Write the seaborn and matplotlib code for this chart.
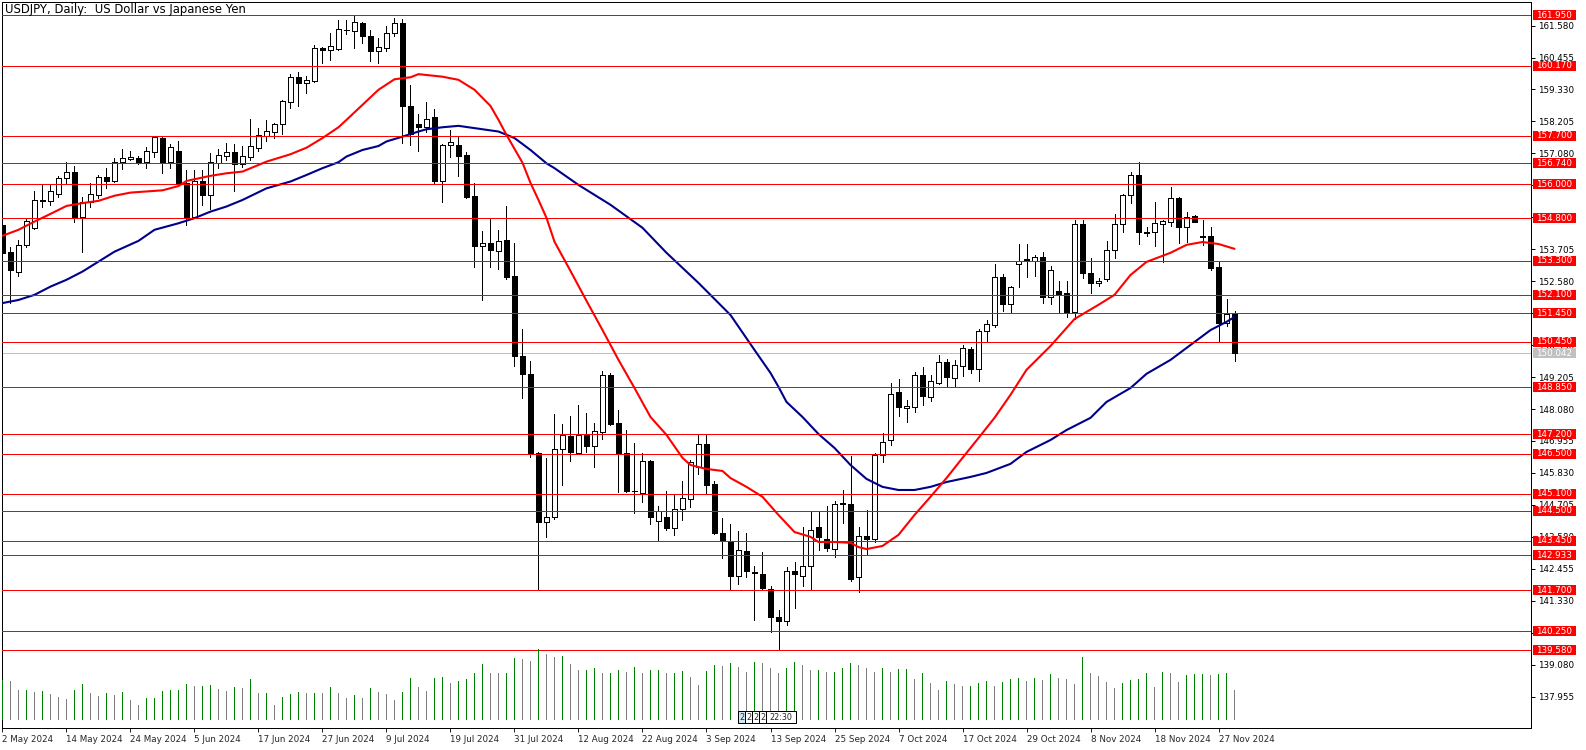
import numpy as np
import pandas as pd
import matplotlib
matplotlib.use("Agg")
import matplotlib.pyplot as plt
import seaborn as sns
from matplotlib.patches import Rectangle
from matplotlib.transforms import ScaledTranslation

sns.set_style("white")
plt.rcParams['font.family'] = ['DejaVu Sans']

# ---------------- data ----------------
opens = [154.56,153.60,152.92,153.87,154.47,155.42,155.42,155.64,156.21,156.42,
         154.85,155.36,155.62,156.24,156.12,156.79,156.88,156.91,156.79,157.14,
         157.62,156.79,157.17,156.03,154.85,156.11,155.60,156.74,157.00,157.12,
         156.70,156.97,157.26,157.71,157.85,158.11,158.90,159.76,159.55,159.63,
         160.78,160.72,160.75,161.42,161.40,161.66,161.22,160.70,160.78,161.31,
         161.66,158.75,158.11,158.02,158.36,156.12,157.36,157.38,157.03,155.58,
         153.83,153.92,153.66,154.03,152.77,149.95,149.32,146.54,144.12,144.27,
         146.66,147.12,146.54,147.18,146.79,147.28,149.28,147.60,146.52,145.21,
         145.12,146.26,144.15,144.29,143.88,144.55,144.90,146.03,146.85,145.44,
         143.71,143.41,142.21,143.08,142.34,142.28,141.73,140.75,140.62,142.38,
         142.21,142.57,143.94,143.50,143.14,144.77,144.74,142.18,143.61,143.50,
         146.46,146.99,148.67,148.11,148.15,149.28,148.50,148.99,149.73,149.16,
         149.61,150.20,149.48,150.83,151.04,152.74,151.77,153.18,153.37,153.30,
         153.42,152.02,152.24,152.16,151.51,154.60,152.86,152.51,152.65,153.68,
         154.59,155.62,156.32,154.32,154.31,154.60,154.68,155.50,154.50,154.88,
         154.16,154.18,153.09,151.11,151.44]
highs = [154.67,153.78,154.03,154.76,155.74,155.97,155.97,156.30,156.76,156.62,
         155.56,156.03,156.33,156.56,156.91,157.23,157.17,156.99,157.32,157.71,
         157.71,157.41,157.52,156.50,156.50,156.50,157.11,157.24,157.44,157.40,
         157.34,158.29,157.97,158.26,158.16,158.96,159.88,159.94,159.81,160.90,
         160.84,161.31,161.78,161.78,161.96,161.70,161.43,161.14,161.57,161.84,
         161.81,159.49,158.47,158.88,158.65,157.40,157.91,157.65,157.12,156.03,
         154.35,154.77,154.39,155.23,153.92,150.90,149.78,146.58,146.35,147.91,
         147.56,147.84,148.22,147.95,147.60,149.42,149.34,148.05,147.34,146.90,
         146.52,146.30,144.67,145.20,145.06,145.55,146.30,147.19,147.19,145.55,
         144.26,144.03,143.79,143.73,142.57,143.04,141.85,141.00,142.51,142.71,
         143.94,144.47,144.47,144.67,144.85,145.23,146.44,143.94,144.53,146.52,
         147.23,148.99,149.14,148.40,149.40,149.57,149.28,149.98,149.85,149.81,
         150.34,150.28,150.89,151.22,153.19,152.84,152.41,153.89,153.89,153.51,
         153.62,153.12,152.57,152.57,154.74,154.74,153.39,152.69,154.00,154.95,
         155.65,156.42,156.76,154.50,155.36,154.74,155.89,155.54,155.03,154.90,
         154.74,154.50,153.24,151.96,151.52]
lows = [153.47,151.81,152.78,153.80,154.42,155.21,155.27,155.56,156.03,154.68,
        153.60,155.21,155.50,155.86,156.09,156.53,156.83,156.70,156.58,156.95,
        156.38,156.58,156.00,154.56,154.80,155.27,155.11,156.56,156.83,155.74,
        156.59,156.83,157.18,157.53,157.62,157.77,158.69,158.76,159.20,159.61,
        160.28,160.37,160.72,161.29,160.78,160.96,160.35,160.28,160.70,161.23,
        157.44,157.38,157.18,157.85,156.05,155.38,156.97,156.30,155.50,153.09,
        151.92,153.09,153.01,152.65,149.60,148.48,146.40,141.71,143.59,144.20,
        145.41,146.26,146.50,146.58,146.05,147.03,147.52,145.17,145.15,144.43,
        144.82,144.02,143.47,143.82,143.65,144.17,144.62,145.78,145.09,143.68,
        142.83,141.75,141.92,142.18,140.65,141.71,140.22,139.58,140.48,141.08,
        141.86,141.71,143.12,143.09,142.88,144.08,142.04,141.63,142.94,143.41,
        146.23,146.82,147.85,147.63,147.99,148.22,148.38,148.95,148.87,148.87,
        149.26,149.36,149.08,150.48,150.97,151.54,151.45,152.39,152.74,152.77,
        151.83,151.78,151.51,151.33,151.24,152.69,152.16,152.42,152.60,153.41,
        154.33,155.33,153.88,154.18,153.83,153.27,154.53,153.92,153.97,154.65,
        153.86,152.98,150.48,151.01,149.77]
closes = [153.58,152.98,153.85,154.70,155.44,155.44,155.76,156.21,156.42,154.85,
          155.36,155.65,156.24,156.12,156.76,156.91,156.97,156.79,157.17,157.65,
          156.79,157.30,156.03,154.85,156.11,155.60,156.76,157.03,157.12,156.70,
          157.00,157.34,157.73,157.87,158.12,158.93,159.76,159.57,159.67,160.78,
          160.73,160.87,161.45,161.44,161.70,161.23,160.70,160.82,161.31,161.66,
          158.76,157.76,158.02,158.28,156.12,157.36,157.48,157.00,155.56,153.83,
          153.92,153.68,154.01,152.74,149.93,149.32,146.50,144.12,144.27,146.66,
          147.16,146.58,147.16,146.79,147.30,149.28,147.55,146.50,145.20,145.19,
          146.26,144.29,144.50,143.90,144.55,144.94,146.23,146.85,145.41,143.71,
          143.44,142.21,143.12,142.39,142.32,141.79,140.77,140.62,142.38,142.26,
          142.57,143.82,143.59,143.20,144.74,144.74,142.10,143.61,143.50,146.46,
          146.91,148.61,148.16,148.19,149.28,148.55,149.07,149.73,149.20,149.63,
          150.22,149.48,150.83,151.07,152.74,151.78,152.36,153.30,153.30,153.42,
          152.02,152.98,152.13,151.51,154.60,152.86,152.51,152.60,153.68,154.59,
          155.62,156.32,154.31,154.29,154.62,154.70,155.50,154.50,154.83,154.68,
          154.14,153.04,151.10,151.44,150.05]
volumes = [120, 117,90,90,85,87,78,70,63,90,107,80,73,80,75,85,60,45,65,67,
           87,90,90,108,103,103,105,93,87,100,97,123,80,80,45,70,77,85,80,82,
           80,100,80,65,75,65,97,85,77,60,85,127,100,87,125,130,110,118,123,142,
           167,142,140,140,187,182,178,213,197,190,193,167,150,150,157,140,140,150,145,160,
           142,150,150,140,142,148,130,105,148,165,162,170,160,145,175,170,157,142,157,173,
           165,150,150,145,145,155,172,165,155,145,155,145,152,152,122,140,110,90,117,107,
           102,102,112,117,102,115,122,127,117,127,120,137,125,122,107,190,142,132,115,95,
           112,120,122,142,100,145,142,115,135,137,137,135,137,142,91]
ma_fast_bar = [0,2,4,6,8,10,12,14,16,18,20,22,23,26,28,30,33,36,38,40,42,43,45,47,49,
               51,52,53,55,57,59,61,62,63,65,66,67,68,69,71,73,75,77,79,81,83,85,86,88,90,
               91,93,95,97,99,101,102,104,106,107,108,110,112,114,116,118,120,122,124,126,
               128,131,134,137,139,141,143,146,148,150,152,154]
ma_fast_val = [154.18,154.39,154.68,154.95,155.23,155.33,155.41,155.59,155.70,155.74,
               155.78,155.93,156.11,156.29,156.38,156.44,156.79,157.05,157.28,157.62,
               158.00,158.26,158.79,159.32,159.69,159.76,159.87,159.84,159.78,159.67,
               159.32,158.75,158.26,157.73,156.75,156.04,155.44,154.81,153.97,152.94,
               151.89,150.86,149.81,148.82,147.80,147.17,146.36,146.11,145.97,145.90,
               145.65,145.34,144.99,144.35,143.75,143.58,143.40,143.40,143.37,143.22,
               143.15,143.26,143.65,144.35,144.99,145.65,146.36,147.06,147.77,148.58,
               149.46,150.30,151.25,151.75,152.10,152.80,153.26,153.58,153.86,153.96,
               153.89,153.72]
ma_slow_bar = [0,2,4,6,8,10,12,14,17,19,22,24,26,28,30,33,36,38,40,42,43,45,47,48,50,
               52,53,55,57,59,62,64,66,68,69,72,76,80,83,87,91,94,96,97,98,100,102,104,106,
               108,110,112,114,116,118,121,123,126,128,131,133,136,138,141,143,146,149,151,
               153,154]
ma_slow_val = [151.81,151.92,152.10,152.39,152.63,152.92,153.27,153.62,154.00,154.39,
               154.62,154.80,155.03,155.21,155.44,155.85,156.09,156.32,156.56,156.77,
               156.97,157.20,157.34,157.50,157.67,157.85,157.93,158.00,158.05,157.97,
               157.85,157.62,157.20,156.73,156.56,155.97,155.27,154.46,153.58,152.52,
               151.39,150.16,149.35,148.86,148.33,147.80,147.20,146.71,146.11,145.62,
               145.34,145.23,145.23,145.34,145.51,145.69,145.83,146.15,146.57,146.99,
               147.34,147.77,148.33,148.82,149.32,149.81,150.44,150.86,151.15,151.32]
levels = [161.950,160.170,157.700,156.740,156.000,154.800,153.300,152.100,151.450,
          150.450,148.850,147.200,146.500,145.100,144.500,143.450,142.933,141.700,
          140.250,139.580]
bid_price = 150.042
price_ticks = [137.955,139.080,140.205,141.330,142.455,143.580,144.705,145.830,
               146.955,148.080,149.205,150.330,151.455,152.580,153.705,154.830,
               155.955,157.080,158.205,159.330,160.455,161.580]
date_labels = ["2 May 2024","14 May 2024","24 May 2024","5 Jun 2024","17 Jun 2024",
               "27 Jun 2024","9 Jul 2024","19 Jul 2024","31 Jul 2024","12 Aug 2024",
               "22 Aug 2024","3 Sep 2024","13 Sep 2024","25 Sep 2024","7 Oct 2024",
               "17 Oct 2024","29 Oct 2024","8 Nov 2024","18 Nov 2024","27 Nov 2024"]
date_bars = [0,8,16,24,32,40,48,56,64,72,80,88,96,104,112,120,128,136,144,152]
cursor_labels = ["2", "2", "2", "2", "22:30"]
title = "USDJPY, Daily:  US Dollar vs Japanese Yen"

df = pd.DataFrame({"bar": np.arange(len(opens)), "open": opens, "high": highs,
                   "low": lows, "close": closes, "volume": volumes})

# ---------------- figure ----------------
W, H = 1586, 750
fig = plt.figure(figsize=(W/100, H/100), dpi=100)
fig.patch.set_facecolor("white")
L, R, T, B = 2, 1531, 2, 728.3
rect = [L/W, 1 - B/H, (R-L)/W, (B-T)/H]
ax = fig.add_axes(rect)
ax.set_facecolor("white")
for s in ax.spines.values():
    s.set_color("black"); s.set_linewidth(0.72)

FS = 6.3
PX = 0.72  # one pixel in points
ax.set_xlim(-0.06, 191.06)
ax.set_ylim(136.84, 162.41)

# horizontal levels
for lv in levels:
    ax.axhline(lv, color="#ff0000", lw=PX, zorder=5, antialiased=False)
ax.axhline(bid_price, color="#c0c0c0", lw=PX, zorder=1.5, antialiased=False)

# candles
up = df["close"] >= df["open"]
ax.vlines(df["bar"], df["low"], df["high"], color="black", lw=PX, zorder=2,
          antialiased=False)
body_lo = np.minimum(df["open"], df["close"])
body_h = np.maximum((df["close"] - df["open"]).abs(), 0.012)
ax.bar(df["bar"], body_h, bottom=body_lo, width=0.56,
       color=np.where(up, "white", "black"), edgecolor="black", linewidth=PX,
       zorder=3, antialiased=False)

# moving averages
sns.lineplot(x=ma_slow_bar, y=ma_slow_val, ax=ax, color="#00008b", lw=1.5, zorder=4)
sns.lineplot(x=ma_fast_bar, y=ma_fast_val, ax=ax, color="#ff0000", lw=1.5, zorder=4)

# right axis ticks
ax.yaxis.tick_right()
ax.set_yticks(price_ticks)
ax.set_yticklabels([f"{t:.3f}" for t in price_ticks])
ax.tick_params(axis="y", which="both", right=True, left=False, length=3, width=PX,
               pad=2, labelsize=FS, colors="black", direction="out")
ax.set_xticks(date_bars)
ax.set_xticklabels(date_labels, ha="left")
ax.tick_params(axis="x", bottom=True, length=3, width=PX, pad=1.5, labelsize=FS,
               direction="out")
ax.set_xlabel(""); ax.set_ylabel("")

# price label boxes
ytr = ax.get_yaxis_transform()
box_w = 43 / (R - L)
box_h = 10 / 28.4
off = ScaledTranslation(5/100, 0, fig.dpi_scale_trans)
def price_box(y, text, fc):
    ax.add_patch(Rectangle((1.0015, y - box_h/2), box_w, box_h, transform=ytr,
                           facecolor=fc, edgecolor=fc, lw=0, clip_on=False, zorder=6))
    ax.text(1.0, y, text, transform=ytr + off, ha="left", va="center", color="white",
            fontsize=FS, zorder=7, clip_on=False)
for lv in levels:
    price_box(lv, f"{lv:.3f}", "#ff0000")
price_box(bid_price, f"{bid_price:.3f}", "#c0c0c0")

# volumes
vax = fig.add_axes(rect, sharex=ax, frameon=False)
vax.patch.set_alpha(0)
vcol = ["#008000" if i == 0 or volumes[i] >= volumes[i-1] else "#808080"
        for i in range(len(volumes))]
vax.bar(df["bar"], df["volume"], width=0.16, color=vcol, linewidth=0, antialiased=False)
vax.set_ylim(-25, 2154)
vax.set_xlim(-0.06, 191.06)
vax.axis("off")

# cursor time-label stack near the bottom axis
cx = 738
for i, lab in enumerate(cursor_labels):
    w = 8 if len(lab) == 1 else 30
    fc = "#cfe8f7" if i == 0 else "white"
    fig.patches.append(Rectangle((cx / W, 1 - 723 / H), w / W, 12 / H,
                                 transform=fig.transFigure, facecolor=fc,
                                 edgecolor="black", lw=PX, zorder=8))
    fig.text((cx + w / 2) / W, 1 - 717 / H, lab, fontsize=5.8, ha="center",
             va="center", zorder=9)
    cx += w - 1

fig.text(5/W, 1 - 10/H, title, fontsize=8.4, ha="left", va="center", color="black")

fig.savefig("out.png", dpi=100, facecolor="white")
